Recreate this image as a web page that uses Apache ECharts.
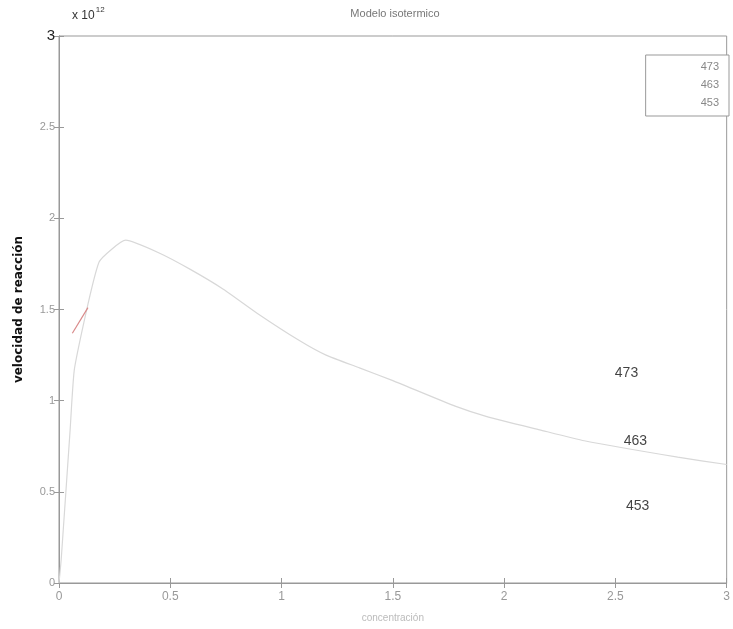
<!DOCTYPE html>
<html>
<head>
<meta charset="utf-8">
<script src="https://cdn.jsdelivr.net/npm/echarts@6/dist/echarts.min.js"></script>
<style>
  html, body { margin: 0; padding: 0; background: #fff; }
  #chart { width: 733px; height: 629px; }
</style>
</head>
<body>
<div id="chart"></div>
<script>
// values (y in units of 1e12)
var seriesNames = ['473', '463', '453'];
var curve473 = [
  [0, 0], [0.01, 0.13], [0.05, 0.84], [0.07, 1.18], [0.18, 1.76], [0.30, 1.88],
  [0.45, 1.81], [0.59, 1.72], [0.74, 1.61], [0.89, 1.48], [1.08, 1.33],
  [1.20, 1.25], [1.35, 1.18], [1.50, 1.11], [1.78, 0.97], [1.93, 0.91],
  [2.16, 0.84], [2.36, 0.78], [2.78, 0.69], [3.0, 0.65]
];
var curve463 = [];                       // not visible on the scan
var curve453 = [[0.06, 1.37], [0.13, 1.51]]; // only a short red piece survives
var labelNames = ['473', '463', '453'];
var labelPos = [[2.55, 1.15], [2.59, 0.78], [2.60, 0.42]];
var xTicks = [0, 0.5, 1, 1.5, 2, 2.5, 3];

var dom = document.getElementById('chart');
var chart = echarts.init(dom, null, { renderer: 'canvas' });

var fontFam = '"Liberation Sans", Arial, sans-serif';

var option = {
  animation: false,
  backgroundColor: '#fff',
  title: {
    text: 'Modelo isotermico',
    left: 390, top: 3, textAlign: 'center',
    textStyle: { fontSize: 11, fontWeight: 'normal', color: '#777', fontFamily: fontFam }
  },
  graphic: [{
    type: 'text', left: 72, top: 6,
    style: {
      text: '{a|x 10}{b|12}',
      rich: {
        a: { fontSize: 12, fill: '#333', fontFamily: fontFam, padding: [6, 0, 0, 0] },
        b: { fontSize: 8, fill: '#333', fontFamily: fontFam, padding: [0, 0, 6, 1] }
      }
    }
  }],
  legend: {
    data: seriesNames,
    orient: 'vertical',
    right: 4, top: 55,
    itemWidth: 0, itemHeight: 14, itemGap: 4,
    padding: [5, 10, 6, 50],
    borderColor: '#999', borderWidth: 1,
    backgroundColor: '#fff',
    textStyle: { fontSize: 11, color: '#888', fontFamily: fontFam },
    icon: 'rect'
  },
  grid: { left: 59, top: 36, width: 669, height: 547, show: true, borderColor: '#999', borderWidth: 1 },
  xAxis: [{
    type: 'value', min: 0, max: 3, interval: 0.5,
    name: 'concentración', nameLocation: 'middle', nameGap: 30,
    nameTextStyle: { fontSize: 10, color: '#bbb', fontFamily: fontFam },
    axisLine: { lineStyle: { color: '#999' } },
    axisTick: { inside: true, length: 5, lineStyle: { color: '#999' } },
    axisLabel: { fontSize: 12, color: '#999', margin: 8, fontFamily: fontFam, customValues: xTicks },
    splitLine: { show: false }
  }, {
    type: 'value', position: 'top', min: 0, max: 3, interval: 0.5,
    axisLine: { lineStyle: { color: '#999' } },
    axisTick: { inside: true, length: 5, lineStyle: { color: '#999' } },
    axisLabel: { show: false }, splitLine: { show: false }
  }],
  yAxis: [{
    type: 'value', min: 0, max: 3, interval: 0.5,
    name: 'velocidad de reacción', nameLocation: 'middle', nameGap: 34,
    nameTextStyle: { fontSize: 12, fontWeight: 'bold', color: '#111', fontFamily: '"DejaVu Sans", sans-serif' },
    axisLine: { lineStyle: { color: '#999' } },
    axisTick: { inside: true, length: 5, lineStyle: { color: '#999' } },
    axisLabel: {
      margin: 4, fontFamily: fontFam,
      formatter: function (v) { return v === 3 ? '{top|3}' : '{n|' + v + '}'; },
      rich: {
        top: { fontSize: 15, color: '#222', fontFamily: fontFam },
        n: { fontSize: 11, color: '#999', fontFamily: fontFam }
      }
    },
    splitLine: { show: false }
  }, {
    type: 'value', position: 'right', min: 0, max: 3, interval: 0.5,
    axisLine: { lineStyle: { color: '#999' } },
    axisTick: { inside: true, length: 5, lineStyle: { color: '#999' } },
    axisLabel: { show: false }, splitLine: { show: false }
  }],
  series: [{
    name: seriesNames[0], type: 'line', data: curve473,
    showSymbol: false, smooth: 0.15,
    lineStyle: { color: '#d8d8d8', width: 1.2 }, itemStyle: { color: '#d8d8d8' }
  }, {
    name: seriesNames[1], type: 'line', data: curve463,
    showSymbol: false,
    lineStyle: { color: '#e6e6e6', width: 1 }, itemStyle: { color: '#e6e6e6' }
  }, {
    name: seriesNames[2], type: 'line', data: curve453,
    showSymbol: false,
    lineStyle: { color: '#d98a8a', width: 1.2 }, itemStyle: { color: '#d98a8a' }
  }, {
    name: 'etiquetas', type: 'scatter', symbolSize: 0,
    data: labelPos.map(function (p, i) { return { name: labelNames[i], value: p }; }),
    label: {
      show: true, position: 'inside', formatter: '{b}',
      fontSize: 14, color: '#111', fontFamily: fontFam
    },
    silent: true
  }]
};

chart.setOption(option);
</script>
</body>
</html>
